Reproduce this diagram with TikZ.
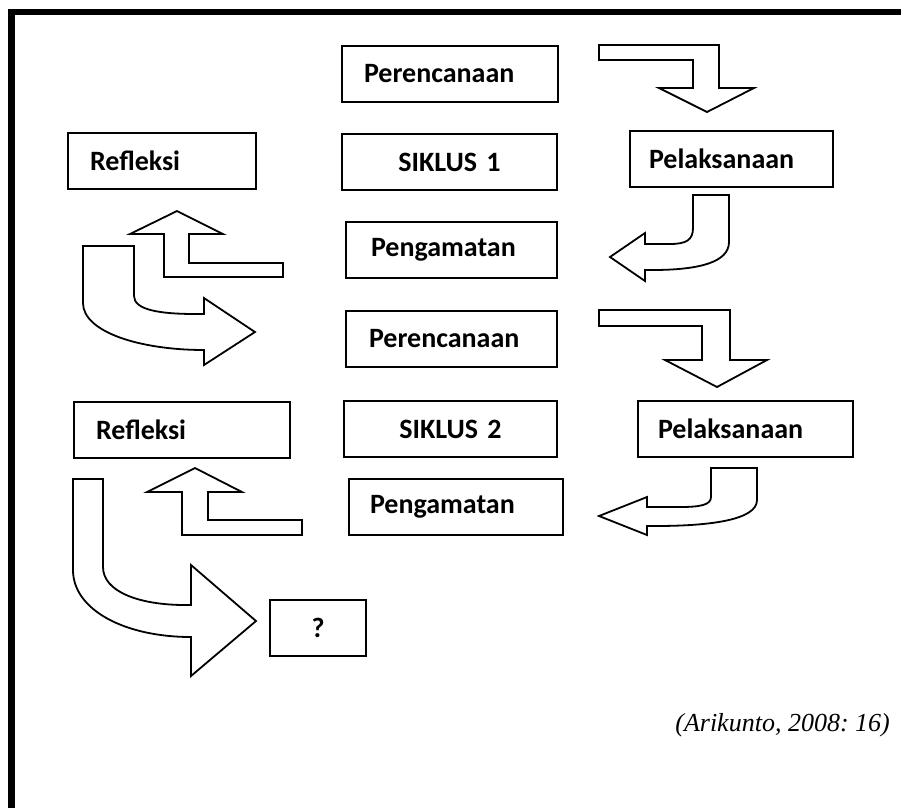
\documentclass[tikz,border=0pt]{standalone}
\usepackage{fontspec}
\setmainfont{Carlito}
\newfontfamily\sumberfont{Liberation Serif}
\frenchspacing

\tikzset{
  tahap/.style={draw,line width=2pt,anchor=north west,minimum height=56pt,
    inner xsep=22pt,inner ysep=0pt,align=left,
    font=\bfseries\fontsize{28}{30}\selectfont},
  panah/.style={draw,line width=1.8pt,line join=miter,fill=white}
}

\begin{document}
\begin{tikzpicture}[x=1pt,y=-1pt]
\useasboundingbox (0,0) rectangle (901,807);
\clip (0,0) rectangle (901,807);
\draw[line width=6.5pt] (11.5,812) -- (11.5,12) -- (906,12);
% siklus 1
\node[tahap,minimum width=216pt,text width=172pt] (ren1) at (341,45) {Perencanaan};
\node[tahap,minimum width=215pt,text width=171pt,align=center] (sik1) at (341,133) {SIKLUS 1};
\node[tahap,minimum width=188pt,text width=144pt] (ref1) at (67,132) {Refleksi};
\node[tahap,minimum width=203pt,text width=165pt,inner xsep=19pt] (lak1) at (629,130) {Pelaksanaan};
\node[tahap,minimum width=211pt,text width=161pt,inner xsep=25pt] (amat1) at (345,221) {Pengamatan};
\draw[panah] (599,45) -- (719,45) -- (719,88) -- (754,88) -- (707,112) -- (659,88) -- (693,88) -- (693,60) -- (599,60) -- cycle;
\draw[panah] (693,195) -- (729,195) -- (729,242) .. controls (729,262) and (700,270) .. (652,270) -- (645,270) -- (645,281) -- (610,257) -- (645,233) -- (645,244) -- (670,244) .. controls (686,244) and (693,240) .. (693,228) -- cycle;
\draw[panah] (283,263) -- (189,263) -- (189,234) -- (223,234) -- (177,211) -- (130,234) -- (164,234) -- (164,277) -- (283,277) -- cycle;
\draw[panah] (83,246) -- (134,246) -- (134,296) .. controls (134,310) and (160,314) .. (196,314) -- (204,314) -- (204,298) -- (255,332) -- (204,365) -- (204,350) .. controls (140,350) and (83,332) .. (83,303) -- cycle;
% siklus 2
\node[tahap,minimum width=211pt,text width=165pt,inner xsep=23pt] (ren2) at (345,310) {Perencanaan};
\node[tahap,minimum width=213pt,text width=169pt,align=center] (sik2) at (343,400) {SIKLUS 2};
\node[tahap,minimum width=216pt,text width=172pt] (ref2) at (73,401) {Refleksi};
\node[tahap,minimum width=215pt,text width=175pt,inner xsep=20pt] (lak2) at (637,400) {Pelaksanaan};
\node[tahap,minimum width=214pt,text width=172pt,inner xsep=21pt] (amat2) at (348,478) {Pengamatan};
\node[tahap,minimum width=96pt,text width=52pt,align=center] (lanjut) at (269,599) {?};
\draw[panah] (599,310) -- (730,310) -- (730,360) -- (767,360) -- (717,387) -- (665,360) -- (702,360) -- (702,326) -- (599,326) -- cycle;
\draw[panah] (711,468) -- (757,468) -- (757,500) .. controls (757,520) and (710,526) .. (655,526) -- (647,526) -- (647,535) -- (599,516) -- (647,497) -- (647,507) -- (680,507) .. controls (700,507) and (711,505) .. (711,497) -- cycle;
\draw[panah] (302,520) -- (208,520) -- (208,492) -- (242,492) -- (195,468) -- (147,492) -- (182,492) -- (182,535) -- (302,535) -- cycle;
\draw[panah] (73,479) -- (103,479) -- (103,567) .. controls (103,592) and (140,605) .. (185,605) -- (191,605) -- (191,565) -- (256,621) -- (191,676) -- (191,637) .. controls (125,637) and (73,610) .. (73,570) -- cycle;
\node[anchor=base east,inner sep=0pt,font=\sumberfont\itshape\fontsize{26}{28}\selectfont] (sumber) at (890,731) {(Arikunto, 2008: 16)};
\end{tikzpicture}
\end{document}
